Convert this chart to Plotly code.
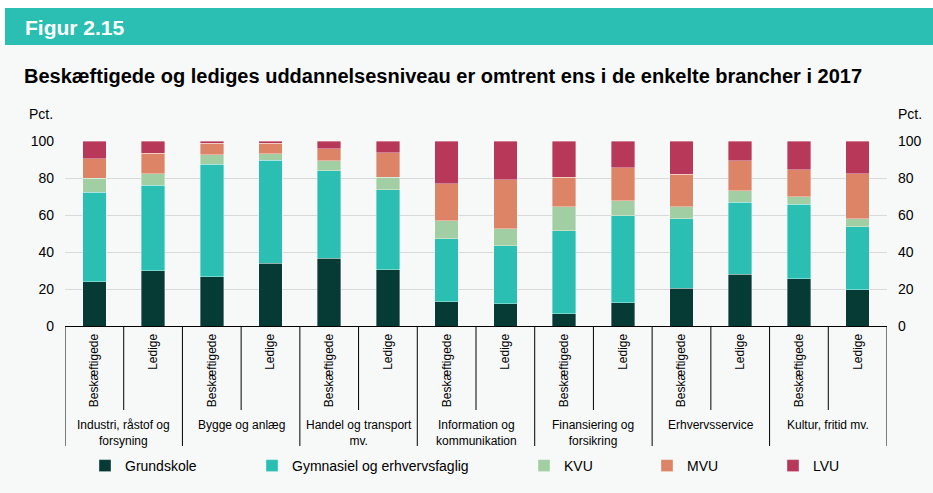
import plotly.graph_objects as go

# ---- data ----
groups = ["Industri, råstof og<br>forsyning", "Bygge og anlæg", "Handel og transport<br>mv.",
          "Information og<br>kommunikation", "Finansiering og<br>forsikring", "Erhvervsservice",
          "Kultur, fritid mv."]
subcats = ["Beskæftigede", "Ledige"]
levels = ["Grundskole", "Gymnasiel og erhvervsfaglig", "KVU", "MVU", "LVU"]

grundskole = [24.0, 30.0, 26.7, 33.8, 36.5, 30.3, 13.0, 12.1, 6.7, 12.5, 20.4, 28.0, 25.6, 19.5]
gymnasiel  = [48.2, 46.0, 60.8, 55.7, 47.4, 43.3, 34.3, 31.2, 44.9, 47.2, 37.5, 38.8, 40.3, 34.1]
kvu        = [7.8, 6.3, 5.1, 3.5, 5.3, 6.7, 9.6, 9.2, 12.8, 8.0, 6.5, 6.3, 4.1, 4.3]
mvu        = [10.4, 11.0, 6.1, 5.7, 6.6, 13.4, 20.0, 26.6, 16.1, 17.9, 17.5, 16.3, 14.5, 24.4]
lvu        = [9.6, 6.7, 1.3, 1.3, 4.2, 6.3, 23.1, 20.9, 19.5, 14.4, 18.1, 10.6, 15.5, 17.7]

y_ticks = [0, 20, 40, 60, 80, 100]

colors = ["#063a35", "#2bbfb3", "#a1cfa3", "#dd8467", "#b73858"]
series = [grundskole, gymnasiel, kvu, mvu, lvu]

W, H = 933, 493
L, R, T, B = 65, 887, 141, 326
pw, ph = R - L, B - T

def px_x(x):
    return (x - L) / pw

def px_y(y):
    return (B - y) / ph

n = len(groups) * len(subcats)
xs = list(range(n))
ticktext = [subcats[i % 2] for i in xs]

fig = go.Figure()
legend_text_x = [127, 294, 566, 689, 815]
for i, (name, vals, col) in enumerate(zip(levels, series, colors)):
    lg = "legend" if i == 0 else f"legend{i+1}"
    fig.add_trace(go.Bar(
        x=xs, y=vals, name=name, marker=dict(color=col, line=dict(color="rgba(255,255,255,0.45)", width=0.8)),
        legend=lg, hoverinfo="skip"))

# invisible trace for right axis
fig.add_trace(go.Scatter(x=[0], y=[0], yaxis="y2", mode="markers", marker=dict(opacity=0),
                         showlegend=False, hoverinfo="skip"))

shapes = []
# background pieces
shapes.append(dict(type="rect", xref="paper", yref="paper", x0=px_x(0), x1=px_x(W), y0=px_y(0), y1=px_y(8),
                   fillcolor="white", line=dict(width=0), layer="below"))
shapes.append(dict(type="rect", xref="paper", yref="paper", x0=px_x(0), x1=px_x(5), y0=px_y(8), y1=px_y(45),
                   fillcolor="white", line=dict(width=0), layer="below"))
shapes.append(dict(type="rect", xref="paper", yref="paper", x0=px_x(5), x1=px_x(W), y0=px_y(8), y1=px_y(45),
                   fillcolor="#2bbfb3", line=dict(width=0), layer="below"))
# category dividers
for g in range(len(groups) + 1):
    xv = g * 2 - 0.5
    shapes.append(dict(type="line", xref="x", yref="paper", x0=xv, x1=xv, y0=0, y1=px_y(446),
                       line=dict(color="black", width=1)))
for g in range(len(groups)):
    xv = g * 2 + 0.5
    shapes.append(dict(type="line", xref="x", yref="paper", x0=xv, x1=xv, y0=0, y1=px_y(410),
                       line=dict(color="black", width=1)))

annotations = []
for g, name in enumerate(groups):
    annotations.append(dict(x=g * 2 + 0.5, xref="x", y=px_y(416), yref="paper", text=name,
                            showarrow=False, xanchor="center", yanchor="top",
                            font=dict(size=12, color="black")))
annotations.append(dict(x=px_x(23), xref="paper", y=px_y(27), yref="paper", text="<b>Figur 2.15</b>",
                        showarrow=False, xanchor="left", yanchor="middle",
                        font=dict(size=21, color="white")))
annotations.append(dict(x=px_x(27), xref="paper", y=px_y(114), yref="paper", text="Pct.",
                        showarrow=False, xanchor="left", yanchor="middle", font=dict(size=14, color="black")))
annotations.append(dict(x=px_x(896), xref="paper", y=px_y(114), yref="paper", text="Pct.",
                        showarrow=False, xanchor="left", yanchor="middle", font=dict(size=14, color="black")))

layout = dict(
    width=W, height=H,
    margin=dict(l=L, r=W - R, t=T, b=H - B, pad=0),
    paper_bgcolor="#f7f9f9", plot_bgcolor="#f7f9f9",
    font=dict(family="Liberation Sans, Arial, sans-serif", color="black"),
    barmode="stack", bargap=0.6,
    title=dict(text="<b>Beskæftigede og lediges uddannelsesniveau er omtrent ens i de enkelte brancher i 2017</b>",
               x=24 / W, xanchor="left", xref="container", y=1 - 76 / H, yanchor="middle", yref="container",
               font=dict(size=20, color="black")),
    xaxis=dict(range=[-0.5, n - 0.5], tickmode="array", tickvals=xs, ticktext=ticktext, tickangle=-90,
               showgrid=False, zeroline=False, showline=True, linecolor="black", linewidth=1,
               ticks="", tickfont=dict(size=12), ticklabelstandoff=2, fixedrange=True),
    yaxis=dict(range=[0, 100], tickvals=y_ticks, showgrid=True, gridcolor="#d9d9d9", gridwidth=1,
               zeroline=False, showline=False, ticks="", tickfont=dict(size=14), ticklabelstandoff=10),
    yaxis2=dict(range=[0, 100], tickvals=y_ticks, overlaying="y", side="right", showgrid=False,
                zeroline=False, showline=False, ticks="", tickfont=dict(size=14), ticklabelstandoff=10),
    shapes=shapes, annotations=annotations, showlegend=True,
)
for i in range(5):
    key = "legend" if i == 0 else f"legend{i+1}"
    layout[key] = dict(x=(legend_text_x[i] - 42) / W, xref="container", xanchor="left",
                       y=1 - 466 / H, yref="container", yanchor="middle",
                       orientation="h", bgcolor="rgba(0,0,0,0)", font=dict(size=14, color="black"),
                       itemwidth=30, borderwidth=0)
fig.update_layout(**layout)

fig.write_html("out.html", config={"displayModeBar": False},
               post_script="document.body.style.margin='0';document.body.style.padding='0';")
